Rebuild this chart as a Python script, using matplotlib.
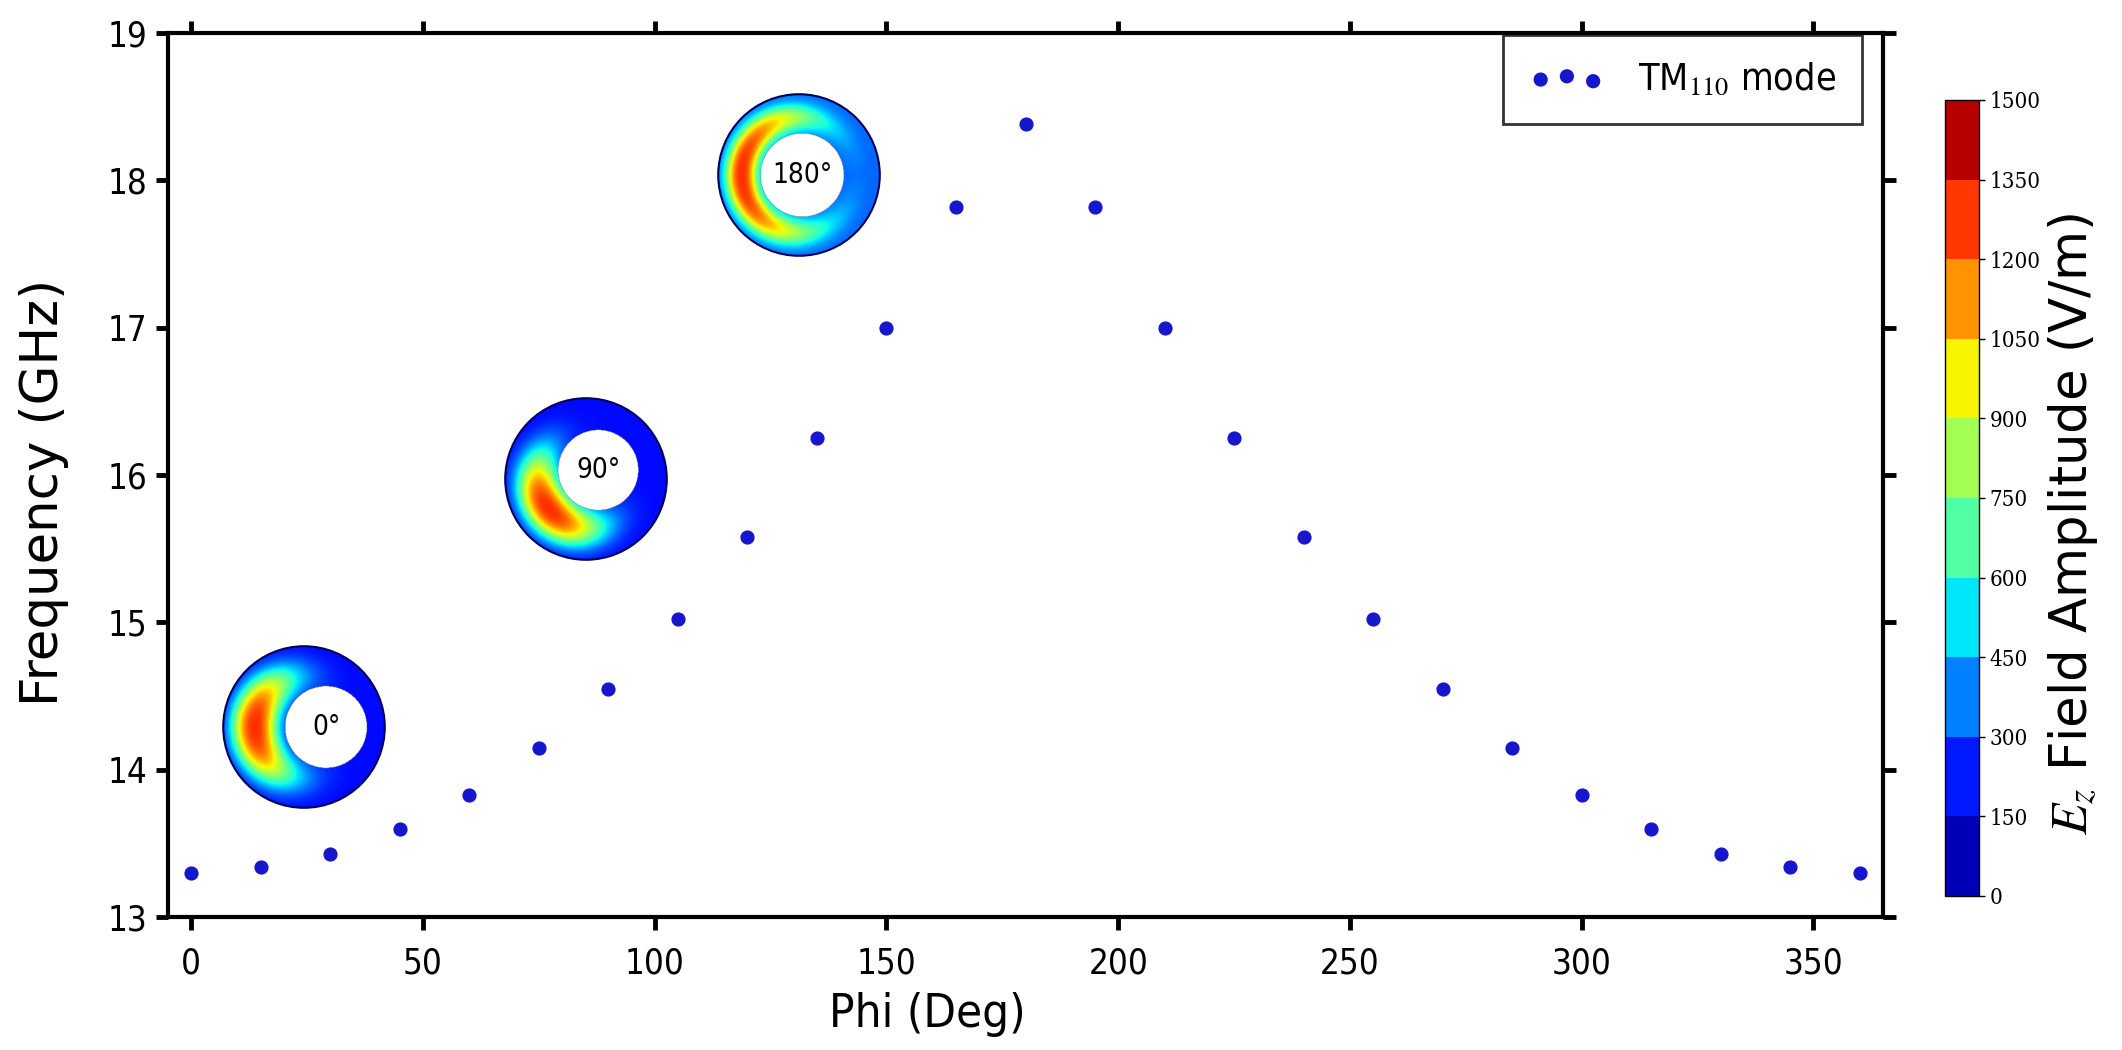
import numpy as np
import matplotlib.pyplot as plt
import matplotlib as mpl
from matplotlib.colors import ListedColormap, BoundaryNorm, Normalize
from matplotlib.patches import Circle

plt.rcParams['font.family'] = ['DejaVu Sans']
plt.rcParams['font.stretch'] = 'condensed'
plt.rcParams['mathtext.fontset'] = 'stix'

# dispersion data
phi = [0, 15, 30, 45, 60, 75, 90, 105, 120, 135, 150, 165, 180,
       195, 210, 225, 240, 255, 270, 285, 300, 315, 330, 345, 360]
freq = [13.30, 13.34, 13.43, 13.60, 13.83, 14.15, 14.55, 15.02, 15.58, 16.25, 17.00, 17.82, 18.38,
        17.82, 17.00, 16.25, 15.58, 15.02, 14.55, 14.15, 13.83, 13.60, 13.43, 13.34, 13.30]

cbar_levels = [0, 150, 300, 450, 600, 750, 900, 1050, 1200, 1350, 1500]

# field-map insets: label, centre (px), hole (dx, dy, radius),
# hot spot (angle deg, radius, angular width deg, radial width), base level
inset_labels = ['0°', '90°', '180°']
inset_centres = [(304, 727), (586, 479), (799, 175)]
inset_holes = [(0.27, 0.0, 0.50), (0.15, 0.11, 0.49), (0.04, 0.0, 0.51)]
inset_spots = [(180, 0.60, 30, 0.11), (218, 0.58, 28, 0.11), (180, 0.70, 40, 0.075)]
inset_base = [200, 200, 340]

W, H = 2122, 1050
fig = plt.figure(figsize=(W / 100, H / 100), dpi=100)

ax = fig.add_axes([168 / W, 1 - 917 / H, (1883 - 168) / W, (917 - 33) / H])
ax.scatter(phi, freq, s=85, color='#1616cc', label=r'TM$_{110}$ mode', zorder=3)
ax.set_xlim(-5, 365)
ax.set_ylim(13, 19)
ax.set_xticks(range(0, 351, 50))
ax.set_yticks(range(13, 20))
ax.tick_params(direction='out', length=9, width=3.5, top=True, right=True, labelsize=25)
ax.tick_params(axis='x', pad=12)
ax.tick_params(axis='y', pad=6)
for sp in ax.spines.values():
    sp.set_linewidth(3)
ax.set_xlabel('Phi (Deg)', fontsize=34)
ax.xaxis.set_label_coords(0.443, -0.085)
ax.set_ylabel('Frequency (GHz)', fontsize=37, fontstretch='normal')
ax.yaxis.set_label_coords(-0.058, 0.48)

leg = ax.legend(loc='upper right', bbox_to_anchor=(0.988, 0.998), borderaxespad=0,
                fontsize=27, scatterpoints=3, fancybox=False, edgecolor='black',
                handletextpad=0.9, borderpad=0.7)
leg.get_frame().set_linewidth(2)

# colour bar
cmap_d = ListedColormap(plt.cm.jet(np.linspace(0.05, 0.95, 10)))
norm_d = BoundaryNorm(cbar_levels, cmap_d.N)
cax = fig.add_axes([1945 / W, 1 - 896 / H, 34 / W, (896 - 100) / H])
cb = mpl.colorbar.ColorbarBase(cax, cmap=cmap_d, norm=norm_d, ticks=cbar_levels)
cb.ax.tick_params(labelsize=16, length=4, width=1)
for t in cb.ax.get_yticklabels():
    t.set_family('DejaVu Serif')
cb.outline.set_linewidth(1)
fig.text(2073 / W, 1 - 524 / H, r'$E_z$ Field Amplitude (V/m)', rotation=90,
         ha='center', va='center', fontsize=37, fontstretch='normal')

# ring field maps
R = 82
g = np.linspace(-1, 1, 300)
X, Y = np.meshgrid(g, g)
r = np.hypot(X, Y)
th = np.degrees(np.arctan2(Y, X)) % 360
jet = plt.cm.jet.copy()
jet.set_bad(alpha=0)
for lab, (cx, cy), (hx, hy, hr), (ang, r0, st, sr), base in zip(
        inset_labels, inset_centres, inset_holes, inset_spots, inset_base):
    iax = fig.add_axes([(cx - R) / W, 1 - (cy + R) / H, 2 * R / W, 2 * R / H])
    d = (th - ang + 180) % 360 - 180
    rho = np.sqrt((d / st) ** 2 + ((r - r0) / sr) ** 2)
    field = base + (1290 - base) * np.exp(-0.095 * rho ** 2.5)
    mask = (r > 0.985) | (np.hypot(X - hx, Y - hy) < hr)
    iax.imshow(np.ma.masked_where(mask, field), extent=[-1, 1, -1, 1], origin='lower',
               cmap=jet, norm=Normalize(0, 1500), interpolation='bilinear')
    iax.add_patch(Circle((0, 0), 0.985, fill=False, edgecolor='#00005a', lw=1.5))
    iax.text(hx, hy, lab, ha='center', va='center', fontsize=20)
    iax.set_xlim(-1, 1)
    iax.set_ylim(-1, 1)
    iax.axis('off')

fig.savefig('out.png', dpi=100)
